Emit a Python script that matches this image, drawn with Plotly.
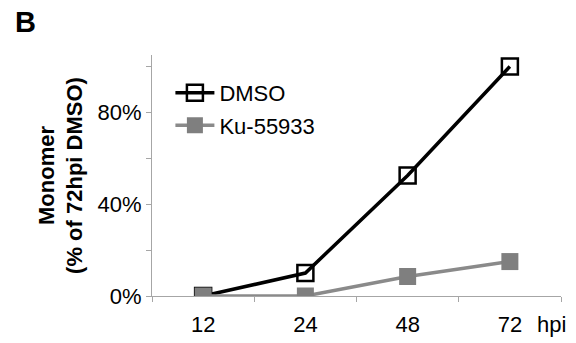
import plotly.graph_objects as go

# Time points (hours post infection) and monomer levels (% of 72hpi DMSO)
timepoints = ["12", "24", "48", "72"]
dmso = [0, 10, 52.5, 100]
ku55933 = [0, 0, 8.5, 15]

y_ticks = [0, 20, 40, 60, 80, 100]
y_tick_labels = ["0%", "", "40%", "", "80%", ""]

FONT = "Arial, Liberation Sans, sans-serif"
AXIS_GREY = "#a6a6a6"

fig = go.Figure()

fig.add_trace(go.Scatter(
    x=timepoints, y=dmso, name="DMSO", mode="lines+markers",
    legendgroup="dmso",
    line=dict(color="black", width=3.5),
    marker=dict(symbol="square-open", size=16, color="black",
                line=dict(width=2.5, color="black")),
))
fig.add_trace(go.Scatter(
    x=timepoints, y=ku55933, name="Ku-55933", mode="lines+markers",
    legendgroup="ku",
    line=dict(color="#8a8a8a", width=3.5),
    marker=dict(symbol="square", size=17, color="#7f7f7f"),
))

fig.update_layout(
    width=576, height=343,
    margin=dict(l=152, r=15, t=55, b=47),
    paper_bgcolor="white", plot_bgcolor="white",
    font=dict(family=FONT, size=22, color="black"),
    showlegend=True,
    legend=dict(x=0.045, y=0.93, xanchor="left", yanchor="top",
                bgcolor="rgba(0,0,0,0)", font=dict(size=22),
                tracegroupgap=1, itemwidth=39),
    xaxis=dict(
        type="category", range=[-0.5, 3.5], tickson="boundaries",
        showline=True, linecolor=AXIS_GREY, linewidth=1,
        ticks="outside", ticklen=5, tickcolor=AXIS_GREY,
        showgrid=False, zeroline=False, automargin=False,
        tickfont=dict(size=22), ticklabelstandoff=9,
    ),
    yaxis=dict(
        range=[0, 105], tickvals=y_ticks, ticktext=y_tick_labels,
        showline=True, linecolor=AXIS_GREY, linewidth=1,
        ticks="outside", ticklen=5, tickcolor=AXIS_GREY,
        showgrid=False, zeroline=False, automargin=False,
        tickfont=dict(size=22),
    ),
    annotations=[
        dict(text="<b>Monomer</b><br><b>(% of 72hpi DMSO)</b>",
             xref="paper", yref="paper", x=-0.224, y=0.5,
             xanchor="center", yanchor="middle", textangle=-90,
             showarrow=False, font=dict(size=22)),
        dict(text="hpi", xref="paper", yref="paper", x=1.017, y=-0.12,
             xanchor="right", yanchor="middle", showarrow=False,
             font=dict(size=22)),
        dict(text="<b>B</b>", xref="paper", yref="paper",
             x=-0.31, y=1.137, xanchor="center", yanchor="middle",
             showarrow=False, font=dict(size=29)),
    ],
)

fig.write_html("out.html")
